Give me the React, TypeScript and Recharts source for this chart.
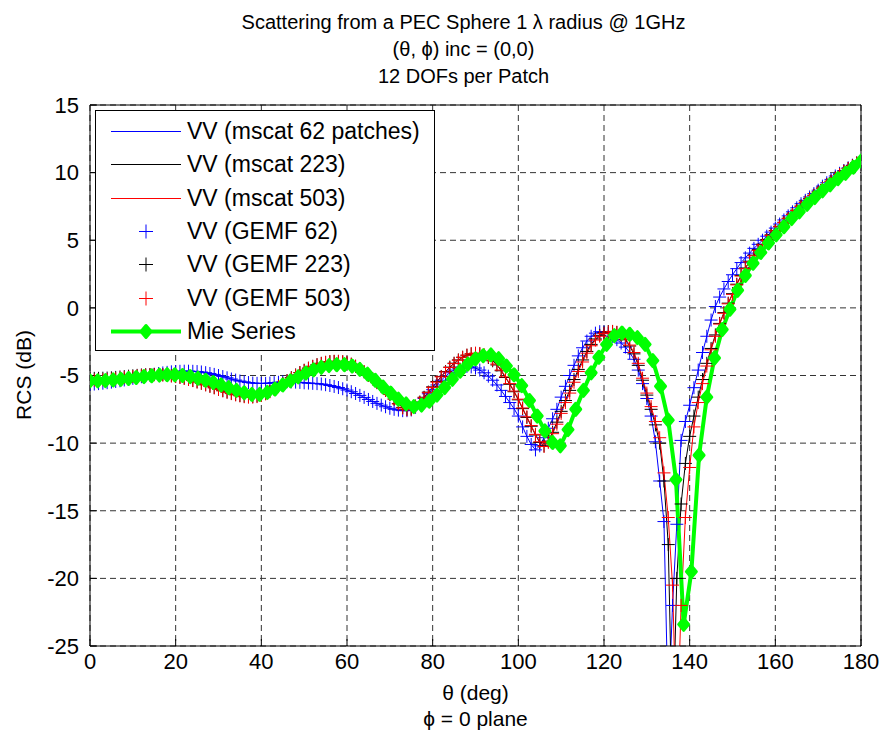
import React from 'react'
import { LineChart, Line, XAxis, YAxis, CartesianGrid } from 'recharts'

// sample angles (deg)
const THETA = [
    0, 1, 2, 3, 4, 5, 6, 7, 8, 9, 10, 11, 12, 13, 14, 15, 16, 17, 18, 19, 20, 21, 22, 23, 24, 25, 26, 27, 28, 29,
    30, 31, 32, 33, 34, 35, 36, 37, 38, 39, 40, 41, 42, 43, 44, 45, 46, 47, 48, 49, 50, 51, 52, 53, 54, 55, 56, 57, 58, 59,
    60, 61, 62, 63, 64, 65, 66, 67, 68, 69, 70, 71, 72, 73, 74, 75, 76, 77, 78, 79, 80, 81, 82, 83, 84, 85, 86, 87, 88, 89,
    90, 91, 92, 93, 94, 95, 96, 97, 98, 99, 100, 101, 102, 103, 104, 105, 106, 107, 108, 109, 110, 111, 112, 113, 114, 115, 116, 117, 118, 119,
    120, 121, 122, 123, 124, 125, 126, 127, 128, 129, 130, 131, 132, 133, 134, 135, 136, 137, 138, 139, 140, 141, 142, 143, 144, 145, 146, 147, 148, 149,
    150, 151, 152, 153, 154, 155, 156, 157, 158, 159, 160, 161, 162, 163, 164, 165, 166, 167, 168, 169, 170, 171, 172, 173, 174, 175, 176, 177, 178, 179,
    180,
]

const THETA_MIE = [
    0, 1.8, 3.6, 5.4, 7.2, 9, 10.8, 12.6, 14.4, 16.2, 18, 19.8, 21.6, 23.4, 25.2, 27, 28.8, 30.6, 32.4, 34.2,
    36, 37.8, 39.6, 41.4, 43.2, 45, 46.8, 48.6, 50.4, 52.2, 54, 55.8, 57.6, 59.4, 61.2, 63, 64.8, 66.6, 68.4, 70.2,
    72, 73.8, 75.6, 77.4, 79.2, 81, 82.8, 84.6, 86.4, 88.2, 90, 91.8, 93.6, 95.4, 97.2, 99, 100.8, 102.6, 104.4, 106.2,
    108, 109.8, 111.6, 113.4, 115.2, 117, 118.8, 120.6, 122.4, 124.2, 126, 127.8, 129.6, 131.4, 133.2, 135, 136.8, 138.6, 140.4, 142.2,
    144, 145.8, 147.6, 149.4, 151.2, 153, 154.8, 156.6, 158.4, 160.2, 162, 163.8, 165.6, 167.4, 169.2, 171, 172.8, 174.6, 176.4, 178.2,
    180,
]

// RCS (dB), 62 patches
const RCS_62 = [
    -5.65, -5.63, -5.6, -5.57, -5.53, -5.49, -5.44, -5.39, -5.33, -5.27,
    -5.21, -5.15, -5.09, -5.03, -4.97, -4.91, -4.86, -4.81, -4.77, -4.73,
    -4.71, -4.69, -4.68, -4.68, -4.69, -4.71, -4.74, -4.79, -4.85, -4.92,
    -5.0, -5.08, -5.17, -5.26, -5.34, -5.41, -5.47, -5.52, -5.56, -5.58,
    -5.59, -5.58, -5.56, -5.53, -5.5, -5.47, -5.46, -5.47, -5.49, -5.51,
    -5.54, -5.56, -5.58, -5.6, -5.63, -5.68, -5.74, -5.81, -5.89, -5.98,
    -6.08, -6.2, -6.33, -6.47, -6.62, -6.77, -6.92, -7.06, -7.19, -7.31,
    -7.42, -7.5, -7.56, -7.6, -7.6, -7.55, -7.35, -7.05, -6.7, -6.35,
    -6.05, -5.7, -5.35, -5.05, -4.8, -4.6, -4.45, -4.36, -4.33, -4.36,
    -4.45, -4.6, -4.8, -5.05, -5.35, -5.7, -6.1, -6.55, -7.0, -7.45,
    -8.0, -8.8, -9.5, -10.1, -10.5, -10.2, -9.6, -8.9, -8.2, -7.5,
    -6.6, -5.8, -5.0, -4.25, -3.55, -2.95, -2.45, -2.1, -1.87, -1.76,
    -1.78, -1.9, -2.1, -2.35, -2.6, -2.9, -3.3, -3.8, -4.6, -5.6,
    -6.7, -8.0, -9.9, -12.8, -15.8, -30.0, -22.0, -16.0, -9.8, -8.4,
    -7.2, -5.9, -4.6, -3.3, -2.1, -0.9, 0.1, 0.8, 1.4, 1.95,
    2.45, 2.9, 3.35, 3.7, 4.05, 4.4, 4.7, 5.0, 5.3, 5.6,
    5.9, 6.2, 6.5, 6.8, 7.1, 7.4, 7.7, 7.95, 8.2, 8.45,
    8.7, 9.0, 9.25, 9.5, 9.75, 9.95, 10.15, 10.35, 10.55, 10.7,
    10.8,
]

// RCS (dB), 223 patches
const RCS_223 = [
    -5.2, -5.21, -5.21, -5.2, -5.19, -5.17, -5.14, -5.11, -5.08, -5.05,
    -5.02, -4.99, -4.96, -4.94, -4.93, -4.92, -4.93, -4.95, -4.98, -5.02,
    -5.07, -5.13, -5.2, -5.28, -5.37, -5.47, -5.57, -5.68, -5.79, -5.9,
    -6.01, -6.12, -6.22, -6.32, -6.41, -6.48, -6.53, -6.56, -6.56, -6.52,
    -6.44, -6.32, -6.17, -5.99, -5.79, -5.58, -5.37, -5.16, -4.96, -4.78,
    -4.61, -4.46, -4.32, -4.2, -4.1, -4.03, -3.98, -3.96, -3.96, -3.99,
    -4.06, -4.17, -4.32, -4.51, -4.73, -4.98, -5.25, -5.53, -5.82, -6.11,
    -6.41, -6.74, -7.08, -7.36, -7.5, -7.46, -7.26, -6.96, -6.61, -6.23,
    -5.84, -5.45, -5.07, -4.71, -4.38, -4.09, -3.85, -3.65, -3.5, -3.4,
    -3.37, -3.4, -3.5, -3.67, -3.91, -4.22, -4.65, -5.15, -5.65, -6.2,
    -6.8, -7.45, -8.1, -8.75, -9.4, -9.95, -10.2, -9.85, -9.2, -8.45,
    -7.65, -6.85, -6.1, -5.3, -4.55, -3.85, -3.22, -2.7, -2.3, -2.03,
    -1.85, -1.75, -1.74, -1.82, -2.02, -2.36, -2.82, -3.4, -4.25, -5.35,
    -6.45, -7.5, -8.65, -10.0, -12.8, -17.5, -32.0, -20.0, -14.5, -11.5,
    -9.5, -8.0, -6.6, -5.3, -4.1, -3.0, -2.0, -1.15, -0.35, 0.35,
    1.05, 1.75, 2.4, 2.95, 3.45, 3.9, 4.3, 4.7, 5.05, 5.4,
    5.72, 6.03, 6.33, 6.63, 6.93, 7.23, 7.53, 7.82, 8.08, 8.33,
    8.58, 8.86, 9.12, 9.37, 9.62, 9.87, 10.11, 10.32, 10.52, 10.71,
    10.86,
]

// RCS (dB), 503 patches
const RCS_503 = [
    -5.35, -5.35, -5.34, -5.32, -5.3, -5.27, -5.24, -5.2, -5.16, -5.12,
    -5.08, -5.04, -5.01, -4.98, -4.96, -4.95, -4.95, -4.96, -4.99, -5.03,
    -5.08, -5.14, -5.21, -5.29, -5.38, -5.48, -5.58, -5.69, -5.8, -5.91,
    -6.02, -6.13, -6.24, -6.34, -6.43, -6.51, -6.57, -6.6, -6.6, -6.56,
    -6.48, -6.36, -6.2, -6.02, -5.82, -5.61, -5.4, -5.19, -4.99, -4.8,
    -4.63, -4.47, -4.33, -4.21, -4.11, -4.03, -3.98, -3.95, -3.95, -3.98,
    -4.05, -4.16, -4.31, -4.5, -4.72, -4.97, -5.24, -5.52, -5.81, -6.1,
    -6.4, -6.74, -7.1, -7.4, -7.54, -7.5, -7.3, -7.0, -6.65, -6.27,
    -5.88, -5.49, -5.1, -4.74, -4.41, -4.12, -3.87, -3.66, -3.5, -3.39,
    -3.35, -3.37, -3.46, -3.62, -3.85, -4.15, -4.6, -5.1, -5.6, -6.15,
    -6.75, -7.4, -8.05, -8.7, -9.35, -9.9, -10.25, -9.95, -9.3, -8.6,
    -7.8, -7.0, -6.3, -5.5, -4.7, -4.0, -3.35, -2.8, -2.38, -2.1,
    -1.9, -1.78, -1.75, -1.8, -1.98, -2.3, -2.75, -3.3, -4.1, -5.2,
    -6.3, -7.3, -8.4, -9.6, -12.2, -15.5, -20.5, -32.0, -22.0, -15.5,
    -11.8, -8.8, -7.0, -5.6, -4.3, -3.1, -2.1, -1.2, -0.4, 0.3,
    1.0, 1.7, 2.35, 2.9, 3.4, 3.85, 4.25, 4.65, 5.0, 5.35,
    5.7, 6.0, 6.3, 6.6, 6.9, 7.2, 7.5, 7.8, 8.05, 8.3,
    8.55, 8.85, 9.1, 9.35, 9.6, 9.85, 10.1, 10.3, 10.5, 10.7,
    10.85,
]

// Mie series (dB)
const RCS_MIE = [
    -5.4, -5.4, -5.38, -5.33, -5.28, -5.22, -5.15, -5.08, -5.02, -4.97,
    -4.94, -4.95, -5.0, -5.08, -5.2, -5.35, -5.52, -5.7, -5.9, -6.1,
    -6.28, -6.4, -6.4, -6.25, -6.0, -5.7, -5.4, -5.1, -4.82, -4.58,
    -4.4, -4.27, -4.2, -4.2, -4.3, -4.55, -4.9, -5.35, -5.85, -6.3,
    -6.75, -7.1, -7.3, -7.19, -6.9, -6.45, -5.89, -5.28, -4.68, -4.16,
    -3.77, -3.54, -3.48, -3.75, -4.3, -4.95, -5.75, -6.85, -8.0, -9.1,
    -9.95, -10.2, -9.0, -7.5, -6.1, -4.8, -3.65, -2.7, -2.05, -1.86,
    -1.95, -2.2, -2.7, -3.9, -5.8, -8.3, -12.7, -23.4, -19.5, -10.9,
    -6.6, -3.7, -1.6, -0.1, 1.3, 2.4, 3.3, 4.1, 4.8, 5.4,
    6.0, 6.6, 7.1, 7.65, 8.15, 8.65, 9.1, 9.55, 9.95, 10.4,
    10.85,
]

const X_TICKS = [0, 20, 40, 60, 80, 100, 120, 140, 160, 180]
const Y_TICKS = [-25, -20, -15, -10, -5, 0, 5, 10, 15]

const FONT = '"Liberation Sans", Arial, Helvetica, sans-serif'

const toPoints = (t: number[], v: number[]) => t.map((x, i) => ({ t: x, v: v[i] }))

const plusDot = (color: string) => (props: any) => {
    const { cx, cy, index } = props
    if (cx == null || cy == null || isNaN(cy)) return <g key={`p-${index}`} />
    const s = 6.5
    return (
        <path
            key={`p-${index}`}
            d={`M${cx - s},${cy}H${cx + s}M${cx},${cy - s}V${cy + s}`}
            stroke={color}
            strokeWidth={1}
            fill="none"
        />
    )
}

const diamondDot = (props: any) => {
    const { cx, cy, index } = props
    if (cx == null || cy == null || isNaN(cy)) return <g key={`d-${index}`} />
    return (
        <path
            key={`d-${index}`}
            d={`M${cx},${cy - 6}L${cx + 5},${cy}L${cx},${cy + 6}L${cx - 5},${cy}Z`}
            stroke="#00FF00"
            strokeWidth={3}
            strokeLinejoin="round"
            fill="#00FF00"
        />
    )
}

const LEGEND = [
    { label: 'VV (mscat 62 patches)', color: '#0000FF', kind: 'line' },
    { label: 'VV (mscat 223)', color: '#000000', kind: 'line' },
    { label: 'VV (mscat 503)', color: '#FF0000', kind: 'line' },
    { label: 'VV (GEMF 62)', color: '#0000FF', kind: 'plus' },
    { label: 'VV (GEMF 223)', color: '#000000', kind: 'plus' },
    { label: 'VV (GEMF 503)', color: '#FF0000', kind: 'plus' },
    { label: 'Mie Series', color: '#00FF00', kind: 'mie' },
]

export default function App() {
    const d62 = toPoints(THETA, RCS_62)
    const d223 = toPoints(THETA, RCS_223)
    const d503 = toPoints(THETA, RCS_503)
    const dMie = toPoints(THETA_MIE, RCS_MIE)

    const tickStyle = { fill: '#000', fontSize: 22, fontFamily: FONT }
    const titleStyle: React.CSSProperties = { position: 'absolute', left: 78, width: 771, fontSize: 20, lineHeight: '22px', textAlign: 'center' }

    return (
        <div style={{ position: 'absolute', left: 0, top: 0, width: 879, height: 745, background: '#fff', fontFamily: FONT }}>
            <LineChart width={879} height={745} margin={{ top: 95, right: 8, bottom: 59, left: 0 }}>
                <CartesianGrid
                    xAxisId="b"
                    yAxisId="l"
                    stroke="#333"
                    strokeDasharray="6 4"
                    horizontalValues={Y_TICKS}
                    verticalValues={X_TICKS}
                />
                <XAxis
                    xAxisId="b"
                    type="number"
                    dataKey="t"
                    domain={[0, 180]}
                    ticks={X_TICKS}
                    allowDataOverflow
                    height={40}
                    tickSize={-7}
                    tickMargin={14}
                    stroke="#000"
                    tick={tickStyle}
                    interval={0}
                />
                <XAxis
                    xAxisId="top"
                    orientation="top"
                    type="number"
                    dataKey="t"
                    domain={[0, 180]}
                    ticks={X_TICKS}
                    allowDataOverflow
                    height={10}
                    tickSize={-7}
                    stroke="#000"
                    tick={false}
                    interval={0}
                />
                <YAxis
                    yAxisId="l"
                    type="number"
                    domain={[-25, 15]}
                    ticks={Y_TICKS}
                    allowDataOverflow
                    width={90}
                    tickSize={-7}
                    tickMargin={18}
                    stroke="#000"
                    tick={tickStyle}
                    interval={0}
                />
                <YAxis
                    yAxisId="r"
                    orientation="right"
                    type="number"
                    domain={[-25, 15]}
                    ticks={Y_TICKS}
                    allowDataOverflow
                    width={10}
                    tickSize={-7}
                    stroke="#000"
                    tick={false}
                    interval={0}
                />
                <Line xAxisId="b" yAxisId="l" data={d62} dataKey="v" stroke="#0000FF" strokeWidth={1} dot={false} activeDot={false} isAnimationActive={false} />
                <Line xAxisId="b" yAxisId="l" data={d223} dataKey="v" stroke="#000000" strokeWidth={1} dot={false} activeDot={false} isAnimationActive={false} />
                <Line xAxisId="b" yAxisId="l" data={d503} dataKey="v" stroke="#FF0000" strokeWidth={1} dot={false} activeDot={false} isAnimationActive={false} />
                <Line xAxisId="b" yAxisId="l" data={d62} dataKey="v" stroke="none" dot={plusDot('#0000FF')} activeDot={false} isAnimationActive={false} />
                <Line xAxisId="b" yAxisId="l" data={d223} dataKey="v" stroke="none" dot={plusDot('#000000')} activeDot={false} isAnimationActive={false} />
                <Line xAxisId="b" yAxisId="l" data={d503} dataKey="v" stroke="none" dot={plusDot('#FF0000')} activeDot={false} isAnimationActive={false} />
                <Line xAxisId="b" yAxisId="l" data={dMie} dataKey="v" stroke="#00FF00" strokeWidth={4} dot={diamondDot} activeDot={false} isAnimationActive={false} />
            </LineChart>

            {/* title */}
            <div style={{ ...titleStyle, top: 11 }}>Scattering from a PEC Sphere 1 λ radius @ 1GHz</div>
            <div style={{ ...titleStyle, top: 38 }}>(θ, ϕ) inc = (0,0)</div>
            <div style={{ ...titleStyle, top: 65 }}>12 DOFs per Patch</div>

            {/* axis labels */}
            <div style={{ position: 'absolute', left: 90, width: 771, top: 682, fontSize: 21, lineHeight: '22px', textAlign: 'center' }}>
                θ (deg)
            </div>
            <div style={{ position: 'absolute', left: 90, width: 771, top: 708, fontSize: 21, lineHeight: '22px', textAlign: 'center' }}>
                ϕ = 0 plane
            </div>
            <div
                style={{
                    position: 'absolute',
                    left: 24,
                    top: 375,
                    fontSize: 21,
                    lineHeight: '22px',
                    whiteSpace: 'nowrap',
                    transform: 'translate(-50%, -50%) rotate(-90deg)',
                }}
            >
                RCS (dB)
            </div>

            {/* legend */}
            <div
                style={{
                    position: 'absolute',
                    left: 95,
                    top: 110,
                    width: 340,
                    height: 241,
                    boxSizing: 'border-box',
                    border: '1.5px solid #000',
                    background: '#fff',
                }}
            >
                {LEGEND.map((item, i) => (
                    <div key={i} style={{ position: 'absolute', left: 0, top: 4 + i * 33.3, height: 33, width: '100%' }}>
                        <svg width={90} height={33} style={{ position: 'absolute', left: 0, top: 0 }}>
                            {item.kind === 'line' && <line x1={15} x2={85} y1={16.5} y2={16.5} stroke={item.color} strokeWidth={1.2} />}
                            {item.kind === 'plus' && (
                                <path d="M43,16.5H57M50,9.5V23.5" stroke={item.color} strokeWidth={1} fill="none" />
                            )}
                            {item.kind === 'mie' && (
                                <>
                                    <line x1={15} x2={85} y1={16.5} y2={16.5} stroke={item.color} strokeWidth={4} />
                                    <path d="M50,10.5L55,16.5L50,22.5L45,16.5Z" stroke={item.color} strokeWidth={3} strokeLinejoin="round" fill={item.color} />
                                </>
                            )}
                        </svg>
                        <div style={{ position: 'absolute', left: 91, top: 3, fontSize: 23, lineHeight: '27px', whiteSpace: 'nowrap' }}>
                            {item.label}
                        </div>
                    </div>
                ))}
            </div>
        </div>
    )
}
